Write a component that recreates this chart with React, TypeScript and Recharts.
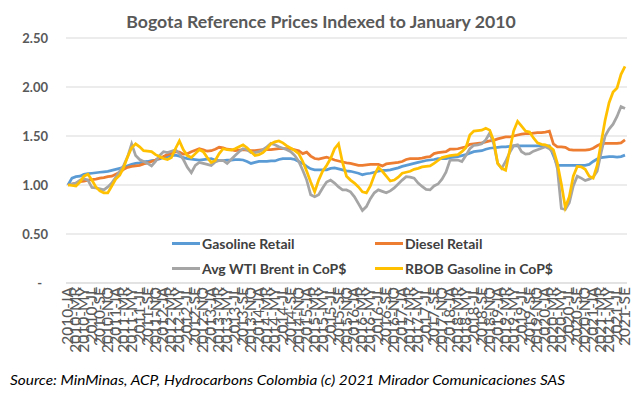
import React from 'react';
import { LineChart, Line, XAxis, YAxis, CartesianGrid } from 'recharts';

const years = [2010, 2011, 2012, 2013, 2014, 2015, 2016, 2017, 2018, 2019, 2020, 2021];
const monthCodes = ['JA', 'FE', 'MR', 'AB', 'MY', 'JN', 'JL', 'AG', 'SE', 'OC', 'NO', 'DI'];
const lastYearMonths = 9;

const categories: string[] = [];
years.forEach((yr, yi) => {
  const n = yi === years.length - 1 ? lastYearMonths : 12;
  for (let m = 0; m < n; m++) categories.push(`${yr}-${monthCodes[m]}`);
});

const gasolineRetail = [
  1.00, 1.07, 1.085, 1.09, 1.11, 1.115, 1.12, 1.125, 1.13, 1.135, 1.14, 1.15,
  1.16, 1.17, 1.18, 1.195, 1.21, 1.22, 1.225, 1.235, 1.24, 1.25, 1.255, 1.265,
  1.28, 1.29, 1.30, 1.305, 1.295, 1.28, 1.27, 1.265, 1.26, 1.255, 1.26, 1.265,
  1.27, 1.255, 1.25, 1.25, 1.255, 1.255, 1.26, 1.26, 1.255, 1.24, 1.22, 1.23,
  1.24, 1.24, 1.24, 1.245, 1.245, 1.26, 1.27, 1.27, 1.27, 1.26, 1.24, 1.22,
  1.19, 1.165, 1.155, 1.155, 1.155, 1.155, 1.17, 1.175, 1.165, 1.155, 1.145, 1.14,
  1.13, 1.12, 1.105, 1.115, 1.12, 1.13, 1.14, 1.15, 1.15, 1.155, 1.165, 1.175,
  1.19, 1.20, 1.21, 1.22, 1.23, 1.24, 1.25, 1.255, 1.26, 1.27, 1.27, 1.27,
  1.28, 1.285, 1.29, 1.30, 1.31, 1.325, 1.34, 1.345, 1.35, 1.365, 1.375, 1.38,
  1.385, 1.39, 1.39, 1.395, 1.40, 1.40, 1.40, 1.40, 1.40, 1.40, 1.40, 1.40,
  1.40, 1.40, 1.30, 1.20, 1.20, 1.20, 1.20, 1.20, 1.20, 1.20, 1.20, 1.21,
  1.24, 1.265, 1.28, 1.285, 1.29, 1.29, 1.285, 1.29, 1.305,
];

const dieselRetail = [
  1.00, 1.01, 1.02, 1.035, 1.04, 1.05, 1.055, 1.06, 1.07, 1.075, 1.085, 1.09,
  1.11, 1.13, 1.16, 1.18, 1.19, 1.195, 1.20, 1.215, 1.225, 1.24, 1.255, 1.275,
  1.29, 1.31, 1.325, 1.34, 1.335, 1.315, 1.32, 1.34, 1.355, 1.37, 1.36, 1.345,
  1.35, 1.365, 1.385, 1.38, 1.365, 1.36, 1.35, 1.355, 1.36, 1.355, 1.35, 1.35,
  1.355, 1.36, 1.36, 1.36, 1.365, 1.37, 1.37, 1.37, 1.37, 1.36, 1.35, 1.32,
  1.335, 1.295, 1.27, 1.265, 1.275, 1.285, 1.27, 1.255, 1.245, 1.235, 1.225, 1.22,
  1.21, 1.20, 1.20, 1.205, 1.21, 1.21, 1.21, 1.195, 1.215, 1.22, 1.225, 1.23,
  1.24, 1.26, 1.27, 1.27, 1.27, 1.275, 1.285, 1.29, 1.32, 1.33, 1.335, 1.34,
  1.365, 1.365, 1.37, 1.38, 1.39, 1.415, 1.42, 1.425, 1.43, 1.44, 1.45, 1.455,
  1.47, 1.48, 1.49, 1.49, 1.50, 1.51, 1.52, 1.525, 1.525, 1.53, 1.535, 1.535,
  1.54, 1.55, 1.42, 1.39, 1.39, 1.385, 1.36, 1.355, 1.355, 1.355, 1.355, 1.36,
  1.375, 1.40, 1.42, 1.425, 1.425, 1.425, 1.425, 1.43, 1.46,
];

const avgWtiBrent = [
  1.00, 1.01, 1.02, 1.05, 1.065, 1.05, 0.975, 0.97, 0.96, 0.95, 0.98, 1.02,
  1.08, 1.14, 1.20, 1.29, 1.42, 1.30, 1.26, 1.24, 1.22, 1.195, 1.24, 1.30,
  1.34, 1.33, 1.345, 1.36, 1.32, 1.26, 1.18, 1.125, 1.20, 1.23, 1.22, 1.21,
  1.20, 1.235, 1.25, 1.25, 1.22, 1.26, 1.30, 1.34, 1.37, 1.36, 1.33, 1.33,
  1.34, 1.36, 1.39, 1.425, 1.41, 1.39, 1.375, 1.36, 1.34, 1.30, 1.24, 1.15,
  1.05, 0.90, 0.88, 0.90, 0.97, 1.03, 1.05, 1.02, 0.98, 0.95, 0.95, 0.93,
  0.88, 0.81, 0.74, 0.78, 0.86, 0.92, 0.95, 0.935, 0.92, 0.94, 0.97, 1.01,
  1.05, 1.085, 1.08, 1.07, 1.02, 0.985, 0.955, 0.95, 0.99, 1.01, 1.06, 1.13,
  1.25, 1.255, 1.255, 1.24, 1.30, 1.37, 1.405, 1.41, 1.42, 1.46, 1.53, 1.42,
  1.22, 1.17, 1.24, 1.33, 1.40, 1.41, 1.34, 1.315, 1.32, 1.345, 1.36, 1.375,
  1.39, 1.37, 1.33, 1.17, 0.76, 0.75, 0.82, 0.99, 1.09, 1.07, 1.045, 1.06,
  1.08, 1.14, 1.33, 1.50, 1.57, 1.62, 1.70, 1.80, 1.78,
];

const rbobGasoline = [
  1.00, 0.995, 0.99, 1.03, 1.09, 1.11, 1.05, 0.98, 0.94, 0.92, 0.92, 0.99,
  1.06, 1.10, 1.18, 1.29, 1.38, 1.42, 1.39, 1.35, 1.345, 1.34, 1.31, 1.29,
  1.27, 1.26, 1.28, 1.37, 1.45, 1.36, 1.30, 1.28, 1.32, 1.36, 1.34, 1.28,
  1.23, 1.25, 1.32, 1.37, 1.36, 1.355, 1.37, 1.39, 1.41, 1.38, 1.34, 1.30,
  1.31, 1.33, 1.37, 1.42, 1.44, 1.45, 1.43, 1.40, 1.375, 1.35, 1.32, 1.24,
  1.14, 1.03, 0.93, 1.05, 1.14, 1.20, 1.27, 1.37, 1.42, 1.23, 1.09, 1.05,
  1.02, 0.98, 0.93, 0.92, 0.99, 1.10, 1.18, 1.14, 1.09, 1.04, 1.05, 1.08,
  1.12, 1.13, 1.14, 1.16, 1.17, 1.185, 1.19, 1.195, 1.22, 1.25, 1.28, 1.29,
  1.30, 1.305, 1.31, 1.34, 1.38, 1.51, 1.55, 1.555, 1.56, 1.58, 1.56, 1.45,
  1.22, 1.17, 1.15, 1.35, 1.55, 1.65, 1.60, 1.55, 1.54, 1.48, 1.43, 1.415,
  1.41, 1.39, 1.36, 1.22, 1.01, 0.77, 0.88, 1.09, 1.19, 1.185, 1.16, 1.09,
  1.07, 1.20, 1.43, 1.66, 1.84, 1.95, 1.99, 2.13, 2.21,
];

const yTicks = [0, 0.5, 1, 1.5, 2, 2.5];

const seriesDefs = [
  { key: 'gasoline', name: 'Gasoline Retail', color: '#5B9BD5', values: gasolineRetail },
  { key: 'diesel', name: 'Diesel Retail', color: '#ED7D31', values: dieselRetail },
  { key: 'brent', name: 'Avg WTI Brent in CoP$', color: '#A5A5A5', values: avgWtiBrent },
  { key: 'rbob', name: 'RBOB Gasoline in CoP$', color: '#FFC000', values: rbobGasoline },
];

const data = categories.map((c, i) => {
  const row: Record<string, string | number> = { month: c };
  seriesDefs.forEach((s) => {
    row[s.key] = s.values[i];
  });
  return row;
});

const FONT = 'Lato, "Liberation Sans", sans-serif';

const XTick = (props: any) => {
  const { x, y, payload } = props;
  return (
    <text
      x={x}
      y={y}
      transform={`rotate(-90 ${x} ${y})`}
      textAnchor="end"
      dy={5}
      fill="#595959"
      fontSize={15.5}
      fontFamily={FONT}
    >
      {payload.value}
    </text>
  );
};

const YTick = (props: any) => {
  const { x, y, payload } = props;
  const v = payload.value as number;
  const label = v === 0 ? '-' : v.toFixed(2);
  return (
    <text
      x={v === 0 ? x - 6 : x}
      y={y}
      dy={4.5}
      textAnchor="end"
      fill="#595959"
      fontSize={13}
      fontWeight="bold"
      fontFamily={FONT}
    >
      {label}
    </text>
  );
};

const legendRows = [
  [seriesDefs[0], seriesDefs[1]],
  [seriesDefs[2], seriesDefs[3]],
];

export default function App() {
  return (
    <div
      style={{
        position: 'absolute',
        left: 0,
        top: 0,
        width: 640,
        height: 395,
        background: '#ffffff',
        fontFamily: FONT,
      }}
    >
      <div
        style={{
          position: 'absolute',
          top: 10,
          left: 0,
          width: 642,
          textAlign: 'center',
          fontSize: 17.7,
          fontWeight: 'bold',
          color: '#595959',
          lineHeight: '24px',
        }}
      >
        Bogota Reference Prices Indexed to January 2010
      </div>
      <LineChart
        width={640}
        height={395}
        data={data}
        margin={{ top: 38, right: 13, bottom: 0, left: 0 }}
      >
        <CartesianGrid vertical={false} stroke="#D9D9D9" strokeWidth={1} />
        <XAxis
          dataKey="month"
          interval={1}
          height={112}
          tick={<XTick />}
          tickLine={false}
          tickSize={0}
          tickMargin={4}
          axisLine={{ stroke: '#D9D9D9' }}
          padding={{ left: 2, right: 2 }}
        />
        <YAxis
          domain={[0, 2.5]}
          ticks={yTicks}
          width={66}
          tick={<YTick />}
          tickLine={false}
          tickSize={0}
          tickMargin={18}
          axisLine={false}
        />
        {seriesDefs.map((s) => (
          <Line
            key={s.key}
            type="linear"
            dataKey={s.key}
            name={s.name}
            stroke={s.color}
            strokeWidth={2.75}
            dot={false}
            isAnimationActive={false}
          />
        ))}
      </LineChart>
      {legendRows.map((row, ri) => (
        <div key={ri}>
          {row.map((s, ci) => (
            <div
              key={s.key}
              style={{
                position: 'absolute',
                left: ci === 0 ? 172 : 375,
                top: ri === 0 ? 234 : 259,
                height: 18,
                display: 'flex',
                alignItems: 'center',
                whiteSpace: 'nowrap',
              }}
            >
              <span
                style={{
                  display: 'inline-block',
                  width: 28,
                  height: 3,
                  background: s.color,
                  marginRight: 2,
                }}
              />
              <span style={{ fontSize: 14, fontWeight: 'bold', color: '#404040' }}>{s.name}</span>
            </div>
          ))}
        </div>
      ))}
      <svg
        width={640}
        height={30}
        style={{ position: 'absolute', left: 0, top: 365 }}
      >
        <text
          x={10}
          y={20}
          textLength={555}
          lengthAdjust="spacingAndGlyphs"
          fontSize={13}
          fontStyle="italic"
          fontFamily={FONT}
          fill="#000000"
        >
          Source: MinMinas, ACP, Hydrocarbons Colombia (c) 2021 Mirador Comunicaciones SAS
        </text>
      </svg>
    </div>
  );
}
